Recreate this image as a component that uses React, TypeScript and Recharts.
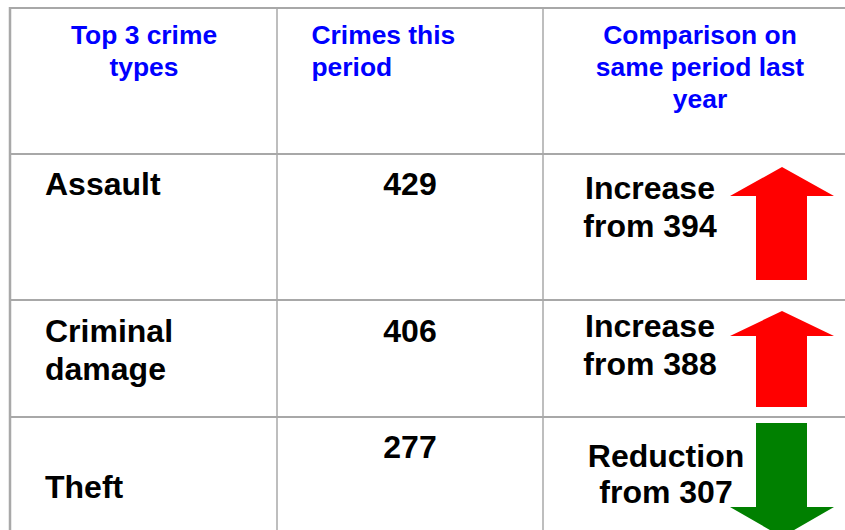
import React from "react";
import {
  ComposedChart,
  ReferenceLine,
  Scatter,
  XAxis,
  YAxis,
} from "recharts";

// table content
const headerLines = [
  ["Top 3 crime", "types"],
  ["Crimes this", "period"],
  ["Comparison on", "same period last", "year"],
];
const crimeTypes = ["Assault", "Criminal damage", "Theft"];
const crimesThisPeriod = [429, 406, 277];
const samePeriodLastYear = [394, 388, 307];

// layout (pixels, chart is 845 x 530 with a 1:1 scale)
const W = 845;
const H = 530;
const colEdges = [10, 277, 543];
const rowTops = [8, 154, 300, 417];
const GRID = "#a8a8a8";
const FONT = "'Liberation Sans', Arial, sans-serif";

// per row placement, offsets from the row top
const rowLayout = [
  { label: [41], count: 41, comp: [45, 83], compX: 650, arrow: { a: 13, b: 42, c: 126 } },
  { label: [42, 80], count: 42, comp: [37, 75], compX: 650, arrow: { a: 11, b: 36, c: 107 } },
  { label: [81], count: 41, comp: [50, 86], compX: 666, arrow: { a: 6, b: 90, c: 120 } },
];

const headerData = [{ x: 0, y: rowTops[0] }];
const rowData = crimeTypes.map((type, i) => ({
  x: 0,
  y: rowTops[i + 1],
  type,
  count: crimesThisPeriod[i],
  last: samePeriodLastYear[i],
  i,
}));

const HeaderShape = (props: any) => {
  const { cy } = props;
  const offs = [36, 68, 100];
  const cols = [
    { x: 144, anchor: "middle" },
    { x: 311.5, anchor: "start" },
    { x: 700, anchor: "middle" },
  ];
  return (
    <g>
      {headerLines.map((lines, c) =>
        lines.map((t, k) => (
          <text
            key={`${c}-${k}`}
            x={cols[c].x}
            y={cy + offs[k]}
            textAnchor={cols[c].anchor as any}
            fontFamily={FONT}
            fontWeight="bold"
            fontSize={26.4}
            fill="#0000ff"
          >
            {t}
          </text>
        ))
      )}
    </g>
  );
};

const RowShape = (props: any) => {
  const { cy, payload } = props;
  const lay = rowLayout[payload.i];
  const labelLines = payload.type.split(" ");
  const up = payload.count > payload.last;
  const compLines = [up ? "Increase" : "Reduction", `from ${payload.last}`];
  const { a, b, c } = lay.arrow;
  const hl = 730;
  const hr = 834;
  const sl = 756;
  const sr = 807;
  const mid = (hl + hr) / 2;
  const pts = up
    ? [
        [mid, cy + a],
        [hr, cy + b],
        [sr, cy + b],
        [sr, cy + c],
        [sl, cy + c],
        [sl, cy + b],
        [hl, cy + b],
      ]
    : [
        [sl, cy + a],
        [sr, cy + a],
        [sr, cy + b],
        [hr, cy + b],
        [mid, cy + c],
        [hl, cy + b],
        [sl, cy + b],
      ];
  const textProps = {
    fontFamily: FONT,
    fontWeight: "bold",
    fontSize: 32,
    fill: "#000",
  };
  return (
    <g>
      {labelLines.map((t: string, k: number) => (
        <text key={`l${k}`} x={45} y={cy + lay.label[k]} {...textProps}>
          {t}
        </text>
      ))}
      <text x={410} y={cy + lay.count} textAnchor="middle" {...textProps}>
        {payload.count}
      </text>
      <polygon
        points={pts.map((p) => p.join(",")).join(" ")}
        fill={up ? "#ff0000" : "#008000"}
      />
      {compLines.map((t, k) => (
        <text
          key={`c${k}`}
          x={lay.compX}
          y={cy + lay.comp[k]}
          textAnchor="middle"
          {...textProps}
        >
          {t}
        </text>
      ))}
    </g>
  );
};

export default function App() {
  return (
    <div style={{ position: "absolute", left: 0, top: 0, background: "#fff" }}>
      <ComposedChart
        width={W}
        height={H}
        margin={{ top: 0, right: 0, bottom: 0, left: 0 }}
      >
        <XAxis type="number" dataKey="x" domain={[0, W]} hide allowDataOverflow />
        <YAxis type="number" dataKey="y" domain={[0, H]} reversed hide allowDataOverflow />
        {rowTops.map((y) => (
          <ReferenceLine
            key={`h${y}`}
            segment={[
              { x: colEdges[0] - 1, y },
              { x: W, y },
            ]}
            stroke={GRID}
            strokeWidth={2}
          />
        ))}
        {colEdges.map((x) => (
          <ReferenceLine
            key={`v${x}`}
            segment={[
              { x, y: rowTops[0] - 1 },
              { x, y: H },
            ]}
            stroke={GRID}
            strokeWidth={x === colEdges[0] ? 2.5 : 1.5}
          />
        ))}
        <Scatter
          data={headerData}
          dataKey="y"
          shape={(p: any) => <HeaderShape {...p} />}
          isAnimationActive={false}
        />
        <Scatter
          data={rowData}
          dataKey="y"
          shape={(p: any) => <RowShape {...p} />}
          isAnimationActive={false}
        />
      </ComposedChart>
    </div>
  );
}
